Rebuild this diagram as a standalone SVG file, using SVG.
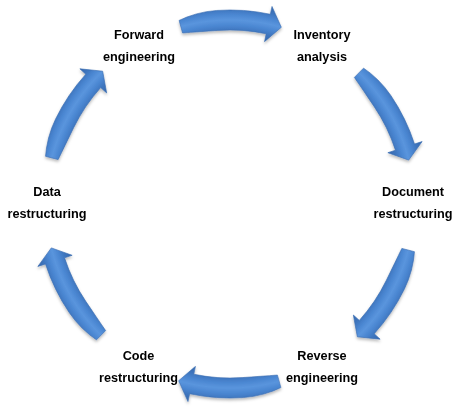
<svg xmlns="http://www.w3.org/2000/svg" xmlns:xlink="http://www.w3.org/1999/xlink" width="462" height="413" viewBox="0 0 462 413">
  <style>
    .lbl { font-family: "Liberation Sans", Arial, sans-serif; font-weight: bold; font-size: 12.7px; fill: #000; text-anchor: middle; }
    .arr { fill: url(#arrGrad); stroke: #3a6db2; stroke-width: 0.6; stroke-linejoin: round; }
  </style>
  <defs>
    <radialGradient id="arrGrad" gradientUnits="userSpaceOnUse" cx="230" cy="204" r="202">
      <stop offset="0.82" stop-color="#3466ab"/>
      <stop offset="0.86" stop-color="#3f77c0"/>
      <stop offset="0.885" stop-color="#4b87d2"/>
      <stop offset="0.911" stop-color="#5a95dd"/>
      <stop offset="0.937" stop-color="#4b87d2"/>
      <stop offset="0.962" stop-color="#3f77c0"/>
      <stop offset="1" stop-color="#3466ab"/>
    </radialGradient>
    <filter id="shadow" x="-10%" y="-10%" width="120%" height="120%">
      <feDropShadow dx="0" dy="2" stdDeviation="1.5" flood-color="#000" flood-opacity="0.28"/>
    </filter>
    <path id="arrow" class="arr" d="M179.09,20.43 L186.84,17.06 L196.48,13.88 L206.39,11.68 L216.47,10.47 A194,194 0 0 1 270.33,14.24 L272.00,6.41 L281.33,27.31 L264.51,41.63 L266.18,33.80 A174,174 0 0 0 217.86,30.42 L208.77,31.06 L199.62,31.71 L190.38,32.37 L182.56,32.96 Z"/>
  </defs>
  <rect width="462" height="413" fill="#fff"/>
  <g id="connectors" filter="url(#shadow)">
    <use xlink:href="#arrow" href="#arrow"/>
    <use xlink:href="#arrow" href="#arrow" transform="rotate(60 230 204)"/>
    <use xlink:href="#arrow" href="#arrow" transform="rotate(120 230 204)"/>
    <use xlink:href="#arrow" href="#arrow" transform="rotate(180 230 204)"/>
    <use xlink:href="#arrow" href="#arrow" transform="rotate(240 230 204)"/>
    <use xlink:href="#arrow" href="#arrow" transform="rotate(300 230 204)"/>
  </g>
  <g id="forward-engineering">
    <text class="lbl" x="139" y="38.5">Forward</text>
    <text class="lbl" x="139" y="60.5">engineering</text>
  </g>
  <g id="inventory-analysis">
    <text class="lbl" x="322" y="38.5">Inventory</text>
    <text class="lbl" x="322" y="60.5">analysis</text>
  </g>
  <g id="document-restructuring">
    <text class="lbl" x="413" y="196">Document</text>
    <text class="lbl" x="413" y="218">restructuring</text>
  </g>
  <g id="reverse-engineering">
    <text class="lbl" x="322" y="360">Reverse</text>
    <text class="lbl" x="322" y="382">engineering</text>
  </g>
  <g id="code-restructuring">
    <text class="lbl" x="138.5" y="360">Code</text>
    <text class="lbl" x="138.5" y="382">restructuring</text>
  </g>
  <g id="data-restructuring">
    <text class="lbl" x="47" y="196">Data</text>
    <text class="lbl" x="47" y="218">restructuring</text>
  </g>
</svg>
